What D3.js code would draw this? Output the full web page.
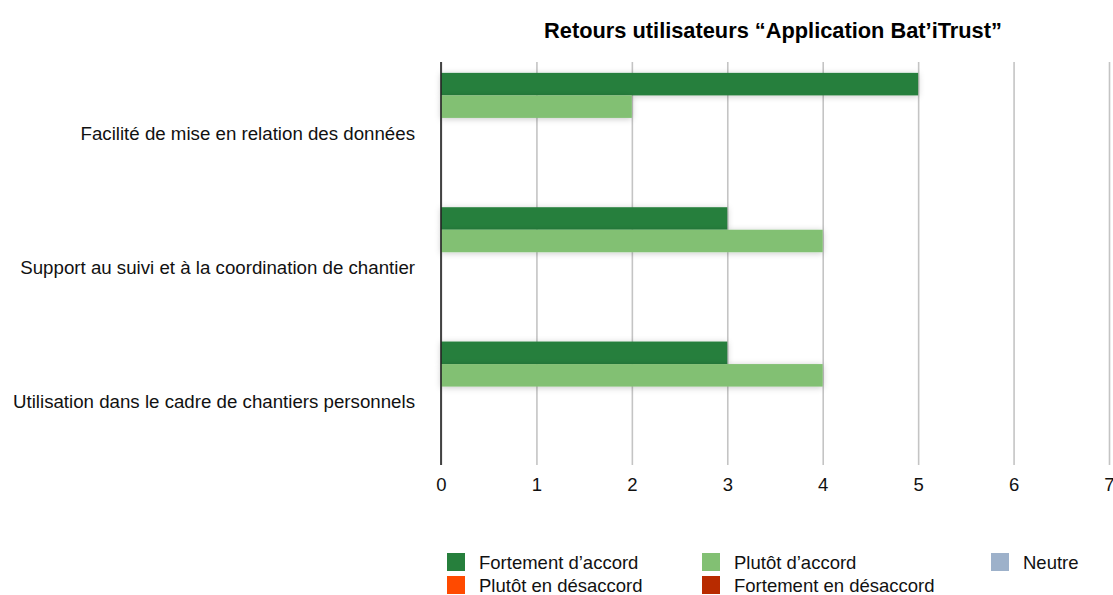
<!DOCTYPE html>
<html>
<head>
<meta charset="utf-8">
<script src="https://cdn.jsdelivr.net/npm/d3@7"></script>
<style>
  html, body { margin: 0; padding: 0; background: #ffffff; }
  svg { display: block; font-family: "Liberation Sans", Arial, Helvetica, sans-serif; }
</style>
</head>
<body>
<svg id="chart" width="1113" height="595"></svg>
<script>
// Questions asked to users
const categories = [
  "Facilité de mise en relation des données",
  "Support au suivi et à la coordination de chantier",
  "Utilisation dans le cadre de chantiers personnels"
];

// Answer levels (series)
const series = [
  "Fortement d’accord",
  "Plutôt d’accord",
  "Neutre",
  "Plutôt en désaccord",
  "Fortement en désaccord"
];

// Number of answers per question, one array per answer level
const fortementAccord    = [5, 3, 3];
const plutotAccord       = [2, 4, 4];
const neutre             = [0, 0, 0];
const plutotDesaccord    = [0, 0, 0];
const fortementDesaccord = [0, 0, 0];

const xTicks = [0, 1, 2, 3, 4, 5, 6, 7];

const colors = ["#267f3c", "#82c073", "#9db1ca", "#ff4a00", "#b82b00"];

const values = [fortementAccord, plutotAccord, neutre, plutotDesaccord, fortementDesaccord];

const svg = d3.select("#chart");

const plot = { left: 441, right: 1109, top: 62, bottom: 465 };

const x = d3.scaleLinear().domain([0, 7]).range([plot.left, plot.right]);
const y = d3.scaleBand().domain(categories).range([plot.top, plot.bottom])
  .paddingInner(0.162).paddingOuter(0.081);
const ySub = d3.scaleBand().domain(series).range([0, y.bandwidth()]);
const color = d3.scaleOrdinal().domain(series).range(colors);

// soft shadow under bars
const defs = svg.append("defs");
const f = defs.append("filter").attr("id", "barShadow")
  .attr("x", "-10%").attr("y", "-50%").attr("width", "120%").attr("height", "200%");
f.append("feDropShadow").attr("dx", 0).attr("dy", 1).attr("stdDeviation", 3)
  .attr("flood-color", "#000").attr("flood-opacity", 0.22);

// title
svg.append("text")
  .attr("x", 773).attr("y", 30)
  .attr("text-anchor", "middle").attr("dominant-baseline", "central")
  .attr("font-size", 21.8).attr("font-weight", "bold").attr("fill", "#000")
  .text("Retours utilisateurs “Application Bat’iTrust”");

// vertical gridlines and tick labels
const xAxis = d3.axisBottom(x).tickValues(xTicks).tickFormat(d3.format("d"))
  .tickSize(-(plot.bottom - plot.top)).tickPadding(13);
const gx = svg.append("g").attr("transform", `translate(0,${plot.bottom})`).call(xAxis);
gx.select(".domain").remove();
gx.selectAll(".tick line").attr("stroke", "#c4c4c4").attr("stroke-width", 1.6);
gx.selectAll(".tick text").attr("font-size", 18.5).attr("fill", "#111")
  .attr("font-family", "Liberation Sans, Arial, sans-serif");

// category labels
svg.append("g").selectAll("text").data(categories).join("text")
  .attr("x", 415)
  .attr("y", d => y(d) + y.bandwidth() / 2 + 4)
  .attr("text-anchor", "end").attr("dominant-baseline", "central")
  .attr("font-size", 18.7).attr("fill", "#111")
  .text(d => d);

// bars
const rows = [];
categories.forEach((c, i) => series.forEach((s, j) => rows.push({ cat: c, ser: s, v: values[j][i] })));

svg.append("g").selectAll("rect").data(rows.filter(d => d.v > 0)).join("rect")
  .attr("x", x(0))
  .attr("y", d => y(d.cat) + ySub(d.ser))
  .attr("width", d => x(d.v) - x(0))
  .attr("height", ySub.bandwidth())
  .attr("fill", d => color(d.ser))
  .attr("filter", "url(#barShadow)");

// axis line at zero on top of bars
svg.append("line")
  .attr("x1", x(0)).attr("x2", x(0)).attr("y1", plot.top).attr("y2", plot.bottom)
  .attr("stroke", "#222").attr("stroke-width", 1.6);

// legend
const legendPos = [
  { x: 447, y: 553 }, { x: 702, y: 553 }, { x: 991, y: 553 },
  { x: 447, y: 576 }, { x: 702, y: 576 }
];
const lg = svg.append("g").selectAll("g").data(series).join("g")
  .attr("transform", (d, i) => `translate(${legendPos[i].x},${legendPos[i].y})`);
lg.append("rect").attr("width", 18).attr("height", 18).attr("fill", d => color(d));
lg.append("text").attr("x", 32).attr("y", 9.5).attr("dominant-baseline", "central")
  .attr("font-size", 18.5).attr("fill", "#111").text(d => d);
</script>
</body>
</html>
